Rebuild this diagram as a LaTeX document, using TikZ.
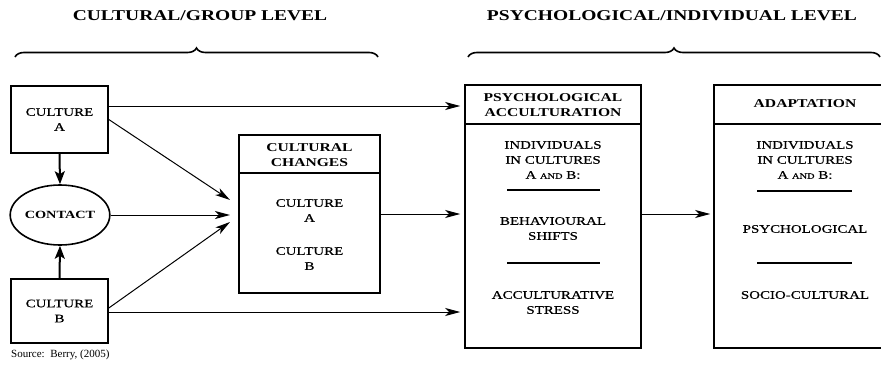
\documentclass[tikz,border=0pt]{standalone}
\usepackage{fontspec}
\setmainfont{Liberation Serif}[FakeStretch=1.3]
\newfontfamily\bodyfont{Liberation Serif}[FakeStretch=1.3,FakeBold=0.6]
\newfontfamily\srcfont{Liberation Serif}
\usetikzlibrary{shapes.geometric,decorations.pathreplacing,arrows.meta}
\newcommand{\scand}{{\fontsize{8}{15}\selectfont AND}}

\begin{document}
\begin{tikzpicture}[x=1pt,y=-1pt,
		box/.style={draw, line width=1.6pt, inner sep=0pt, align=center},
		txt/.style={align=center, inner sep=0pt, font=\bodyfont\fontsize{11.5}{15}\selectfont},
		head/.style={align=center, inner sep=0pt, font=\bfseries\fontsize{12}{15}\selectfont},
		title/.style={inner sep=0pt, font=\bfseries\fontsize{15}{18}\selectfont},
		arr/.style={line width=1pt, -{Stealth[length=15pt,width=8pt,inset=4pt]}},
		bigarr/.style={line width=2pt, -{Stealth[length=13pt,width=10pt,inset=3pt]}},
		rule/.style={line width=1.4pt},
		brc/.style={decorate, decoration={brace,amplitude=9pt}, line width=1.6pt}]
		\useasboundingbox (0,0) rectangle (881,367);

		% level titles and braces
		\node[title] (cultTitle) at (200,16) {CULTURAL/GROUP LEVEL};
		\node[title] (psychTitle) at (672,16) {PSYCHOLOGICAL/INDIVIDUAL LEVEL};
		\draw[brc] (15,57) -- (378,57);
		\draw[brc] (468,57) -- (880,57);

		% group level
		\node[box, minimum width=97pt, minimum height=67pt, font=\bodyfont\fontsize{11.5}{15}\selectfont] (cultA) at (59.5,119.5) {CULTURE\\A};
		\node[box, ellipse, minimum width=89pt, minimum height=60pt, font=\bfseries\fontsize{11}{15}\selectfont] (contact) at (60,215) {CONTACT};
		\node[box, minimum width=97pt, minimum height=64pt, font=\bodyfont\fontsize{11.5}{15}\selectfont] (cultB) at (59.5,311) {CULTURE\\B};

		\node[box, minimum width=141pt, minimum height=158pt] (changes) at (309.5,214) {};
		\draw[rule] (changes.west |- 0,173) -- (changes.east |- 0,173);
		\node[head] (chHead) at (309.5,155) {CULTURAL\\CHANGES};
		\node[txt] (chA) at (309.5,210.5) {CULTURE\\A};
		\node[txt] (chB) at (309.5,258.5) {CULTURE\\B};

		% individual level
		\node[box, minimum width=176pt, minimum height=263pt] (psych) at (553,216.5) {};
		\draw[rule] (psych.west |- 0,124) -- (psych.east |- 0,124);
		\node[head] (psHead) at (553,105.5) {PSYCHOLOGICAL\\ACCULTURATION};
		\node[txt] (psInd) at (553,160) {INDIVIDUALS\\IN CULTURES\\A \scand{} B:};
		\draw[rule] (507,190) -- (600,190);
		\node[txt] (psShift) at (553,228.5) {BEHAVIOURAL\\SHIFTS};
		\draw[rule] (507,263) -- (600,263);
		\node[txt] (psStress) at (553,302.5) {ACCULTURATIVE\\STRESS};

		\node[box, minimum width=182pt, minimum height=263pt] (adapt) at (805,216.5) {};
		\draw[rule] (adapt.west |- 0,124) -- (adapt.east |- 0,124);
		\node[head] (adHead) at (805,104) {ADAPTATION};
		\node[txt] (adInd) at (805,160) {INDIVIDUALS\\IN CULTURES\\A \scand{} B:};
		\draw[rule] (757,191) -- (852,191);
		\node[txt] (adPsy) at (805,229) {PSYCHOLOGICAL};
		\draw[rule] (757,263) -- (852,263);
		\node[txt] (adSoc) at (805,295) {SOCIO-CULTURAL};

		% connectors
		\coordinate (inA) at (230,200);
		\coordinate (inC) at (230,215);
		\coordinate (inB) at (230,222);
		\draw[bigarr] (cultA.south) -- (contact.north);
		\draw[bigarr] (cultB.north) -- (contact.south);
		\draw[arr] (cultA.east) -- (inA);
		\draw[arr] (contact.east) -- (inC);
		\draw[arr] ([yshift=3pt]cultB.east) -- (inB);
		\draw[arr, shorten >=4pt] ([yshift=13.5pt]cultA.east) -- ([yshift=13.5pt]cultA.east -| psych.west);
		\draw[arr, shorten >=4pt] ([yshift=-1pt]cultB.east) -- ([yshift=-1pt]cultB.east -| psych.west);
		\draw[arr, shorten >=4pt] (changes.east) -- (changes.east -| psych.west);
		\draw[arr, shorten >=3pt] (changes.east -| psych.east) -- (changes.east -| adapt.west);

		\node[anchor=base west, inner sep=0pt, font=\srcfont\fontsize{11}{12}\selectfont] (src) at (11,357) {Source:\ \ Berry, (2005)};
	\end{tikzpicture}
\end{document}
